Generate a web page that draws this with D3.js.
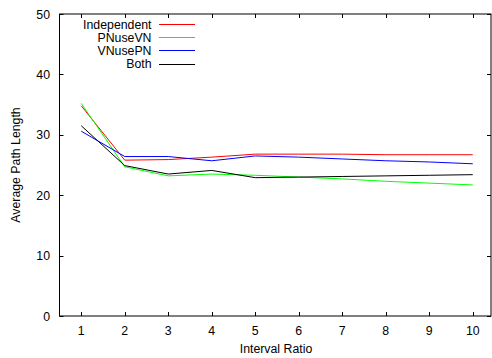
<!DOCTYPE html>
<html><head><meta charset="utf-8">
<script src="https://cdn.jsdelivr.net/npm/d3@7"></script>
<style>body{margin:0;background:#fff}svg{display:block}text{font-family:"Liberation Sans",Arial,sans-serif;font-size:12.3px;fill:#000}</style>
</head><body>
<svg id="c" width="492" height="358"></svg>
<script>
const xValues = [1,2,3,4,5,6,7,8,9,10];
const seriesNames = ["Independent","PNuseVN","VNusePN","Both"];
const seriesColors = ["#ff0000","#00ff00","#0000ff","#000000"];
const independent = [34.8,25.8,25.9,26.3,26.8,26.8,26.8,26.7,26.7,26.7];
const pnuseVN = [35.2,24.7,23.2,23.5,23.3,23.0,22.7,22.3,22.0,21.7];
const vnusePN = [30.6,26.4,26.4,25.7,26.5,26.3,26.0,25.7,25.5,25.2];
const both = [31.5,24.9,23.5,24.1,22.9,23.0,23.1,23.2,23.3,23.4];
const yTicks = [0,10,20,30,40,50];
const xTicks = [1,2,3,4,5,6,7,8,9,10];
const series = [independent, pnuseVN, vnusePN, both];

const svg = d3.select("#c");
const L = 59.5, R = 491, T = 14, B = 316;
const x = d3.scaleLinear().domain([0.5, 10.5]).range([L, L + 435]);
const y = d3.scaleLinear().domain([0, 50]).range([B, T]);

svg.append("rect").attr("x", L).attr("y", T).attr("width", R - L).attr("height", B - T)
  .attr("fill", "none").attr("stroke", "#000").attr("stroke-width", 1);

const tl = 4;
const g = svg.append("g");
xTicks.forEach(t => {
  const px = Math.round(x(t)) + 0.5;
  g.append("line").attr("x1", px).attr("x2", px).attr("y1", B).attr("y2", B - tl).attr("stroke", "#000");
  g.append("line").attr("x1", px).attr("x2", px).attr("y1", T).attr("y2", T + tl).attr("stroke", "#000");
  g.append("text").attr("x", x(t)).attr("y", 334.5).attr("text-anchor", "middle").text(t);
});
yTicks.forEach(t => {
  const py = Math.round(y(t)) + 0.5;
  g.append("line").attr("x1", L).attr("x2", L + tl).attr("y1", py).attr("y2", py).attr("stroke", "#000");
  g.append("line").attr("x1", R).attr("x2", R - tl).attr("y1", py).attr("y2", py).attr("stroke", "#000");
  g.append("text").attr("x", 50).attr("y", y(t) + 4.5).attr("text-anchor", "end").text(t);
});

svg.append("text").attr("x", 276).attr("y", 352.5).attr("text-anchor", "middle").text("Interval Ratio");
svg.append("text").attr("transform", "translate(19.5,165) rotate(-90)").attr("text-anchor", "middle").text("Average Path Length");

const line = d3.line().x((d, i) => x(xValues[i])).y(d => y(d));
series.forEach((s, k) => {
  svg.append("path").attr("d", line(s)).attr("fill", "none").attr("stroke", seriesColors[k]).attr("stroke-width", 1);
});

seriesNames.forEach((n, k) => {
  const ly = 24 + k * 13.2;
  svg.append("text").attr("x", 151.5).attr("y", ly + 4.5).attr("text-anchor", "end").text(n);
  svg.append("line").attr("x1", 159).attr("x2", 195).attr("y1", Math.round(ly) + 0.5).attr("y2", Math.round(ly) + 0.5)
    .attr("stroke", seriesColors[k]).attr("stroke-width", 1);
});
</script>
</body></html>
